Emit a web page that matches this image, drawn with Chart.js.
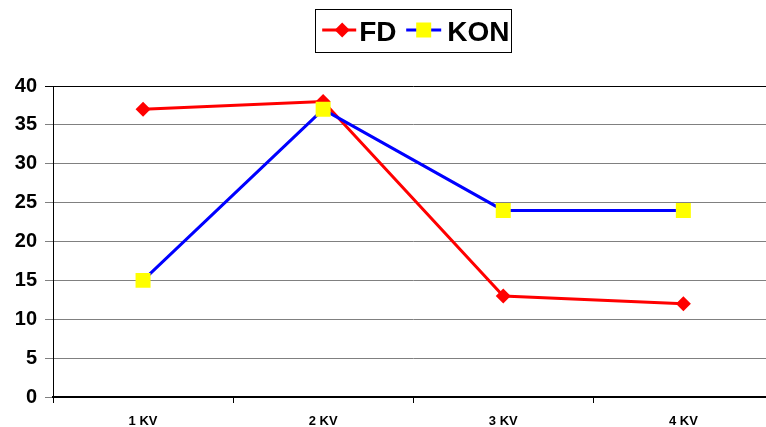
<!DOCTYPE html>
<html><head><meta charset="utf-8">
<script src="https://cdn.jsdelivr.net/npm/chart.js@4.4.0/dist/chart.umd.min.js"></script>
<style>html,body{margin:0;padding:0;overflow:hidden;background:#fff;width:766px;height:427px}canvas{display:block}</style>
</head><body>
<canvas id="c" width="784" height="427"></canvas>
<script>
const categories = ['1 KV', '2 KV', '3 KV', '4 KV'];
const fdValues = [37, 38, 13, 12];
const konValues = [15, 37, 24, 24];
const yTicks = [0, 5, 10, 15, 20, 25, 30, 35, 40];
const seriesNames = ['FD', 'KON'];

const legendPlugin = {
  id: 'customLegend',
  afterDraw(chart) {
    const ctx = chart.ctx;
    const ca = chart.chartArea;
    const cx = (ca.left + ca.right) / 2;
    const left = cx - 98, top = 9, w = 196, h = 43;
    ctx.save();
    ctx.strokeStyle = '#000';
    ctx.lineWidth = 1;
    ctx.strokeRect(Math.round(left) + 0.5, top + 0.5, w, h);
    const ly = top + 21;
    // FD item
    let x = left + 7;
    ctx.strokeStyle = '#FF0000'; ctx.lineWidth = 3;
    ctx.beginPath(); ctx.moveTo(x, ly); ctx.lineTo(x + 34, ly); ctx.stroke();
    ctx.fillStyle = '#FF0000';
    ctx.beginPath();
    const dx = x + 20;
    ctx.moveTo(dx, ly - 7.5); ctx.lineTo(dx + 7.5, ly); ctx.lineTo(dx, ly + 7.5); ctx.lineTo(dx - 7.5, ly); ctx.closePath(); ctx.fill();
    ctx.font = 'bold 28px Arial, "Liberation Sans", sans-serif';
    ctx.fillStyle = '#000'; ctx.textBaseline = 'alphabetic'; ctx.textAlign = 'left';
    ctx.fillText(seriesNames[0], x + 37, ly + 11);
    // KON item
    x = left + 91;
    ctx.strokeStyle = '#0000FF'; ctx.lineWidth = 3;
    ctx.beginPath(); ctx.moveTo(x, ly); ctx.lineTo(x + 35, ly); ctx.stroke();
    ctx.fillStyle = '#FFFF00';
    ctx.fillRect(x + 10, ly - 7.5, 15, 15);
    ctx.fillStyle = '#000';
    ctx.fillText(seriesNames[1], x + 41, ly + 11);
    ctx.restore();
  }
};

new Chart(document.getElementById('c'), {
  type: 'line',
  data: {
    labels: categories,
    datasets: [
      { label: seriesNames[0], data: fdValues, borderColor: '#FF0000', backgroundColor: '#FF0000', borderWidth: 3,
        pointStyle: 'rectRot', pointRadius: 7.5, pointBorderWidth: 0, pointBackgroundColor: '#FF0000', tension: 0, order: 1 },
      { label: seriesNames[1], data: konValues, borderColor: '#0000FF', backgroundColor: '#FFFF00', borderWidth: 3,
        pointStyle: 'rect', pointRadius: 10.6, pointBorderWidth: 0, pointBackgroundColor: '#FFFF00', tension: 0, order: 0 }
    ]
  },
  options: {
    responsive: false,
    animation: false,
    devicePixelRatio: 1,
    layout: { padding: { top: 86, right: 8, left: 0, bottom: 0 } },
    plugins: { legend: { display: false }, tooltip: { enabled: false } },
    scales: {
      x: {
        offset: true,
        grid: { offset: true, drawOnChartArea: false, drawTicks: true, tickLength: 6, color: '#000', lineWidth: 1 },
        border: { display: true, color: '#000', width: 2 },
        ticks: { color: '#000', font: { family: 'Arial, "Liberation Sans", sans-serif', weight: 'bold', size: 13 }, padding: 11, maxRotation: 0 },
        afterFit(s) { s.height = 30; }
      },
      y: {
        min: 0, max: 40,
        afterBuildTicks(s) { s.ticks = yTicks.map(v => ({ value: v })); },
        grid: { color: ctx => (ctx.tick && ctx.tick.value === 40 ? '#000' : '#808080'), lineWidth: 1, tickLength: 8, drawTicks: true },
        border: { display: true, color: '#000', width: 1 },
        ticks: { color: '#000', font: { family: 'Arial, "Liberation Sans", sans-serif', weight: 'bold', size: 20 }, padding: 8 },
        afterFit(s) { s.width = 53; }
      }
    }
  },
  plugins: [legendPlugin]
});
</script>
</body></html>
